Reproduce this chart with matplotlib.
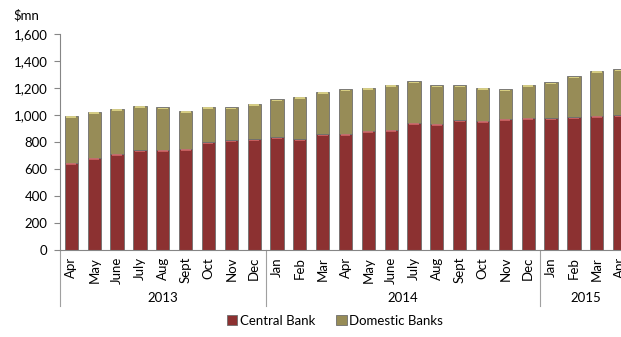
import numpy as np
import matplotlib.pyplot as plt
from matplotlib.transforms import blended_transform_factory

plt.rcParams['font.family'] = ['Lato', 'DejaVu Sans']

months = ["Apr", "May", "June", "July", "Aug", "Sept", "Oct", "Nov", "Dec",
          "Jan", "Feb", "Mar", "Apr", "May", "June", "July", "Aug", "Sept", "Oct", "Nov", "Dec",
          "Jan", "Feb", "Mar", "Apr"]
years = ["2013", "2014", "2015"]
year_counts = [9, 12, 4]

central_bank = [647, 684, 711, 738, 741, 748, 798, 812, 820,
                834, 820, 856, 862, 884, 889, 941, 933, 960, 958, 970, 980,
                975, 983, 993, 998]
total = [993, 1022, 1044, 1069, 1057, 1032, 1062, 1057, 1081,
         1116, 1136, 1169, 1190, 1202, 1222, 1250, 1220, 1220, 1202, 1190, 1222,
         1242, 1286, 1326, 1338]
domestic_banks = [t - c for t, c in zip(total, central_bank)]

red = "#8c3131"
olive = "#978c57"

fig = plt.figure(figsize=(6.21, 3.37), dpi=100)
ax = fig.add_axes([60 / 621, 87 / 337, 571 / 621, 216 / 337])

x = np.arange(len(months))
w = 0.58
ax.bar(x, central_bank, w, color=red, edgecolor="#6e6e6e", linewidth=0.6,
       label="Central Bank", zorder=2)
ax.bar(x, domestic_banks, w, bottom=central_bank, color=olive, edgecolor="#6e6e6e",
       linewidth=0.6, label="Domestic Banks", zorder=2)
# light bevel at the top of each segment
cb = np.array(central_bank)
tt = np.array(total)
ax.bar(x, 12, w * 0.75, bottom=cb - 14, color="#e07070", alpha=0.7, linewidth=0, zorder=3)
ax.bar(x, 12, w * 0.75, bottom=tt - 14, color="#e8df8c", alpha=0.8, linewidth=0, zorder=3)

ax.set_xlim(-0.5, len(months) - 0.5)
ax.set_ylim(0, 1600)
ax.set_yticks(range(0, 1601, 200))
ax.set_yticklabels([f"{v:,}" for v in range(0, 1601, 200)], fontsize=9.5)
ax.set_xticks(x)
ax.set_xticklabels(months, rotation=90, fontsize=9.5)
ax.tick_params(axis='x', length=0, pad=5)
ax.tick_params(axis='y', length=4, color="#868686", pad=5)

for s in ["top", "right"]:
    ax.spines[s].set_visible(False)
for s in ["left", "bottom"]:
    ax.spines[s].set_color("#868686")
    ax.spines[s].set_linewidth(0.8)

ax.text(-0.082, 1.06, r"\$mn", transform=ax.transAxes, fontsize=9.5, ha="left", va="bottom")

# year grouping below the month labels
trans = blended_transform_factory(ax.transData, ax.transAxes)
start = -0.5
bounds = [start]
for yr, n in zip(years, year_counts):
    end = start + n
    ax.text((start + end) / 2, -0.222, yr, transform=trans, ha="center", va="center", fontsize=9.5)
    bounds.append(end)
    start = end
for b in bounds[:-1]:
    ax.plot([b, b], [0, -0.26], transform=trans, color="#a0a0a0", lw=0.8, clip_on=False)

fig.legend(loc="center", bbox_to_anchor=(335 / 621, 1 - 321 / 337), ncol=2, frameon=False,
           fontsize=9.5, handlelength=0.8, handleheight=0.8, handletextpad=0.2, columnspacing=1.6)

plt.savefig("out.png", dpi=100)
